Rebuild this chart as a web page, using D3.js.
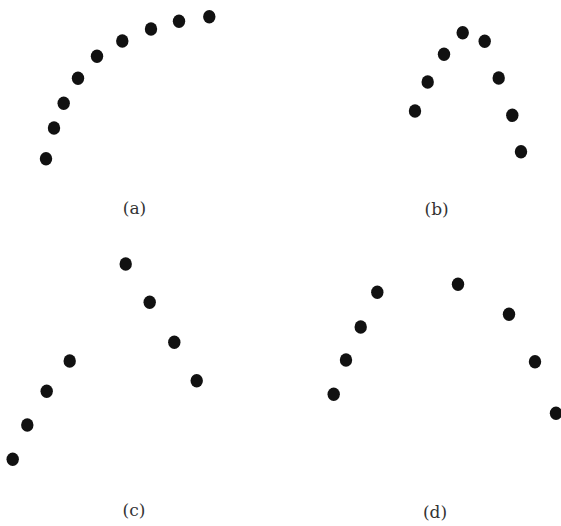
<!DOCTYPE html>
<html>
<head>
<meta charset="utf-8">
<script src="https://cdn.jsdelivr.net/npm/d3@7"></script>
<style>
  html, body { margin: 0; padding: 0; background: #fff; }
  svg { display: block; }
</style>
</head>
<body>
<div id="chart"></div>
<script>
// Data (abstract units: x to the right, y upward)
const panelLabels = ["(a)", "(b)", "(c)", "(d)"];

const aX = [4.60, 5.40, 6.37, 7.80, 9.70, 12.23, 15.10, 17.90, 20.93];
const aY = [36.73, 39.80, 42.27, 44.77, 46.97, 48.50, 49.70, 50.47, 50.93];

const bX = [41.50, 42.77, 44.40, 46.27, 48.47, 49.87, 51.23, 52.10];
const bY = [41.50, 44.40, 47.17, 49.33, 48.47, 44.80, 41.07, 37.43];

const cX = [1.27, 2.73, 4.67, 6.97, 12.57, 14.97, 17.43, 19.67];
const cY = [6.67, 10.10, 13.47, 16.50, 26.20, 22.37, 18.37, 14.53];

const dX = [33.37, 34.60, 36.07, 37.73, 45.80, 50.90, 53.50, 55.60];
const dY = [13.17, 16.60, 19.90, 23.37, 24.17, 21.17, 16.43, 11.27];

// label anchor positions in the same units
const labelX = [13.45, 43.67, 13.40, 43.50];
const labelY = [31.70, 31.60, 1.43, 1.30];

const W = 561, H = 526;
const svg = d3.select("#chart").append("svg")
  .attr("width", W).attr("height", H);

const x = d3.scaleLinear().domain([0, 56.1]).range([0, W]);
const y = d3.scaleLinear().domain([0, 52.6]).range([H, 0]);

const series = [[aX, aY], [bX, bY], [cX, cY], [dX, dY]];

series.forEach(([xs, ys], i) => {
  const pts = xs.map((v, j) => ({ x: v, y: ys[j] }));
  svg.append("g").selectAll("ellipse").data(pts).join("ellipse")
    .attr("cx", d => x(d.x))
    .attr("cy", d => y(d.y))
    .attr("rx", 6.2)
    .attr("ry", 6.7)
    .attr("fill", "#111");
});

svg.append("g").selectAll("text").data(panelLabels).join("text")
  .attr("x", (d, i) => x(labelX[i]))
  .attr("y", (d, i) => y(labelY[i]))
  .attr("text-anchor", "middle")
  .attr("dominant-baseline", "middle")
  .attr("font-family", "'DejaVu Serif', serif")
  .attr("font-size", 17)
  .attr("fill", "#333")
  .text(d => d);
</script>
</body>
</html>
